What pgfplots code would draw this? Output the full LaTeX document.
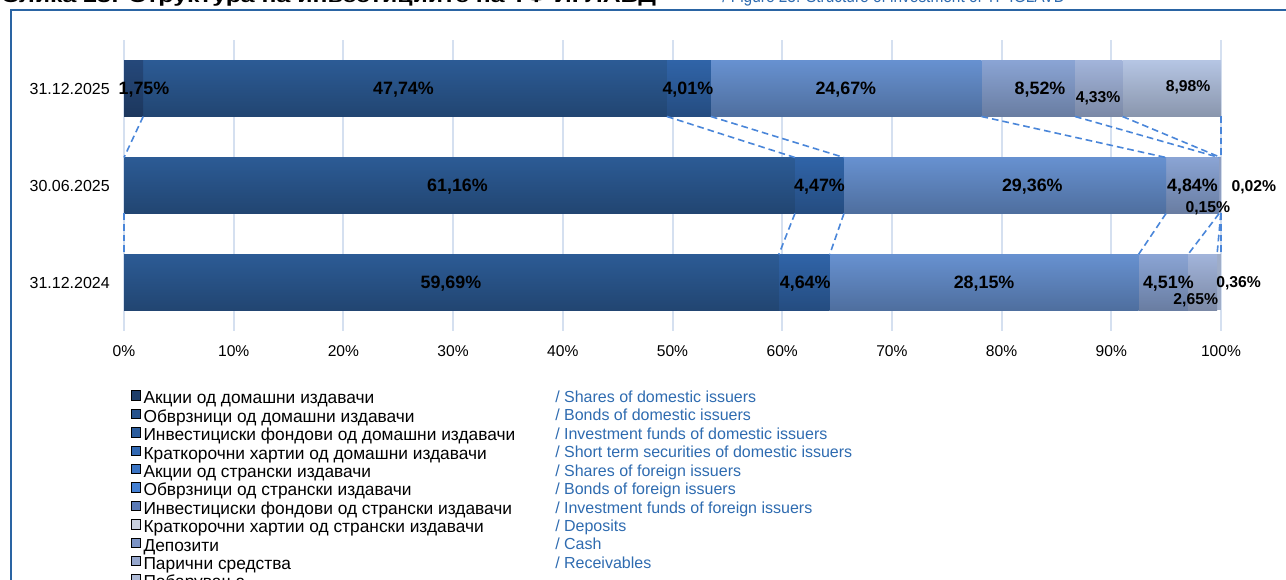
\documentclass[border=0pt]{standalone}
\usepackage{fontspec}
\setmainfont{Liberation Sans}
\usepackage{pgfplots}
\pgfplotsset{compat=1.18}

\definecolor{gridc}{HTML}{D5E0F0}
\definecolor{dashc}{HTML}{4A86D9}
\definecolor{framec}{HTML}{2A64A3}
\definecolor{engc}{HTML}{2E6BB0}
% bar colours (top of gradient)
\definecolor{c1}{HTML}{25487A}
\definecolor{c2}{HTML}{2C5B95}
\definecolor{c3}{HTML}{3064A8}
\definecolor{c7}{HTML}{6791D0}
\definecolor{c9}{HTML}{8AA4D4}
\definecolor{c10}{HTML}{A2B4DA}
\definecolor{c11}{HTML}{B5C5E3}
% legend square colours
\definecolor{l1}{HTML}{1F3E69}
\definecolor{l2}{HTML}{27528B}
\definecolor{l3}{HTML}{2B5C9C}
\definecolor{l4}{HTML}{3168B2}
\definecolor{l5}{HTML}{3A74C3}
\definecolor{l6}{HTML}{4480D3}
\definecolor{l7}{HTML}{5A7AB6}
\definecolor{l8}{HTML}{C8D0E0}
\definecolor{l9}{HTML}{7B93C5}
\definecolor{l10}{HTML}{96A7CD}
\definecolor{l11}{HTML}{AEBAD6}

\pgfplotsset{
  lsq/.style={legend image code/.code={\fill[fill=#1] (0pt,0.9pt) rectangle (7pt,7.9pt);}},
  grad/.style={top color=#1, bottom color=#1!76!black, draw=none},
  flat/.style={fill=#1!88!black, draw=none},
  base/.style={at={(93pt,-248.25pt)}, anchor=south west,
    width=822.75pt, height=218.25pt, scale only axis,
    xmin=0, xmax=100, ymin=-0.5, ymax=2.5, enlargelimits=false},
  baraxis/.style={base, hide axis, xbar stacked, bar width=0.5773},
}
\tikzset{
  big/.style={font=\bfseries\fontsize{13.4}{14}\selectfont, inner sep=0pt, text height=9.6pt, text depth=0pt, anchor=center},
  small/.style={font=\bfseries\fontsize{11.8}{13}\selectfont, inner sep=0pt, text height=8.45pt, text depth=0pt, anchor=center},
  conn/.style={dashc, dash pattern=on 5pt off 3pt, line width=1.2pt},
}

\begin{document}
\begin{tikzpicture}
\useasboundingbox (0pt,0pt) rectangle (964.5pt,-435pt);

% ---- grid, ticks and legend
\begin{axis}[
  base,
  xtick={0,10,...,100},
  xticklabels={0\%,10\%,20\%,30\%,40\%,50\%,60\%,70\%,80\%,90\%,100\%},
  ytick={0,1,2}, yticklabels={31.12.2024,30.06.2025,31.12.2025},
  xmajorgrids, ymajorgrids=false,
  major grid style={draw=gridc, line width=1.5pt},
  axis line style={draw=none}, major tick length=0pt, tick style={draw=none},
  tick label style={inner sep=0pt},
  xticklabel style={font=\fontsize{11.7}{13}\selectfont, anchor=north, yshift=-10.95pt},
  yticklabel style={font=\fontsize{12}{13}\selectfont, anchor=east, xshift=-10.5pt},
  legend cell align=left,
  legend style={at={(0.00638,-0.2041)}, anchor=north west, draw=none, fill=none,
    inner sep=0pt, outer sep=0pt, row sep=-1.24pt, column sep=2pt,
    font=\fontsize{13}{13.875}\selectfont,
    nodes={inner sep=0pt, text height=9pt, text depth=4.875pt}},
]
\addlegendimage{lsq=l1}  \addlegendentry{Акции од домашни издавачи}
\addlegendimage{lsq=l2}  \addlegendentry{Обврзници од домашни издавачи}
\addlegendimage{lsq=l3}  \addlegendentry{Инвестициски фондови од домашни издавачи}
\addlegendimage{lsq=l4}  \addlegendentry{Краткорочни хартии од домашни издавачи}
\addlegendimage{lsq=l5}  \addlegendentry{Акции од странски издавачи}
\addlegendimage{lsq=l6}  \addlegendentry{Обврзници од странски издавачи}
\addlegendimage{lsq=l7}  \addlegendentry{Инвестициски фондови од странски издавачи}
\addlegendimage{lsq=l8}  \addlegendentry{Краткорочни хартии од странски издавачи}
\addlegendimage{lsq=l9}  \addlegendentry{Депозити}
\addlegendimage{lsq=l10} \addlegendentry{Парични средства}
\addlegendimage{lsq=l11} \addlegendentry{Побарувања}
\end{axis}

% ---- 31.12.2025 (y=2)
\begin{axis}[baraxis]
\addplot[grad=c1]  coordinates {(1.75,2)};   % shares, domestic
\addplot[grad=c2]  coordinates {(47.74,2)};  % bonds, domestic
\addplot[grad=c3]  coordinates {(4.01,2)};   % investment funds, domestic
\addplot[grad=c7]  coordinates {(24.67,2)};  % investment funds, foreign
\addplot[grad=c9]  coordinates {(8.52,2)};   % deposits
\addplot[grad=c10] coordinates {(4.33,2)};   % cash
\addplot[grad=c11] coordinates {(8.98,2)};   % receivables
\end{axis}

% ---- 30.06.2025 (y=1)
\begin{axis}[baraxis]
\addplot[grad=c2]  coordinates {(61.16,1)};
\addplot[grad=c3]  coordinates {(4.47,1)};
\addplot[grad=c7]  coordinates {(29.36,1)};
\addplot[grad=c9]  coordinates {(4.84,1)};
\addplot[flat=c10] coordinates {(0.15,1)};
\addplot[flat=c11] coordinates {(0.02,1)};
\end{axis}

% ---- 31.12.2024 (y=0)
\begin{axis}[baraxis]
\addplot[grad=c2]  coordinates {(59.69,0)};
\addplot[grad=c3]  coordinates {(4.64,0)};
\addplot[grad=c7]  coordinates {(28.15,0)};
\addplot[grad=c9]  coordinates {(4.51,0)};
\addplot[grad=c10] coordinates {(2.65,0)};
\addplot[flat=c11] coordinates {(0.36,0)};
\end{axis}

% ---- series lines and data labels
\begin{axis}[base, hide axis, clip=false]
\addplot[conn, no marks] coordinates {(1.75,1.71135) (0,1.28865)};
\addplot[conn, no marks] coordinates {(49.49,1.71135) (61.16,1.28865)};
\addplot[conn, no marks] coordinates {(53.50,1.71135) (65.63,1.28865)};
\addplot[conn, no marks] coordinates {(78.17,1.71135) (94.99,1.28865)};
\addplot[conn, no marks] coordinates {(86.69,1.71135) (99.83,1.28865)};
\addplot[conn, no marks] coordinates {(91.02,1.71135) (99.98,1.28865)};
\addplot[conn, no marks] coordinates {(100,1.71135) (100,1.28865)};
\addplot[conn, no marks] coordinates {(0,0.71135) (0,0.28865)};
\addplot[conn, no marks] coordinates {(61.16,0.71135) (59.69,0.28865)};
\addplot[conn, no marks] coordinates {(65.63,0.71135) (64.33,0.28865)};
\addplot[conn, no marks] coordinates {(94.99,0.71135) (92.48,0.28865)};
\addplot[conn, no marks] coordinates {(99.83,0.71135) (96.99,0.28865)};
\addplot[conn, no marks] coordinates {(99.98,0.71135) (99.64,0.28865)};
\addplot[conn, no marks] coordinates {(100,0.71135) (100,0.28865)};
\node[big] at (axis cs:1.82,2) {1,75\%};
\node[big] at (axis cs:25.48,2) {47,74\%};
\node[big] at (axis cs:51.4,2) {4,01\%};
\node[big] at (axis cs:65.8,2) {24,67\%};
\node[big] at (axis cs:83.5,2) {8,52\%};
\node[small] at (axis cs:88.8,1.918) {4,33\%};
\node[small] at (axis cs:97.0,2.03) {8,98\%};
\node[big] at (axis cs:30.4,1) {61,16\%};
\node[big] at (axis cs:63.4,1) {4,47\%};
\node[big] at (axis cs:82.8,1) {29,36\%};
\node[big] at (axis cs:97.4,1) {4,84\%};
\node[small] at (axis cs:103.0,1) {0,02\%};
\node[small] at (axis cs:98.8,0.783) {0,15\%};
\node[big] at (axis cs:29.8,0) {59,69\%};
\node[big] at (axis cs:62.1,0) {4,64\%};
\node[big] at (axis cs:78.4,0) {28,15\%};
\node[big] at (axis cs:95.2,0) {4,51\%};
\node[small] at (axis cs:97.7,-0.165) {2,65\%};
\node[small] at (axis cs:101.6,0.01) {0,36\%};
\end{axis}

\begin{scope}[x=0.75pt, y=-0.75pt]
\draw[framec, line width=1.5pt] (11,10.5) rectangle (1320,700);
\node[anchor=base west, inner sep=0pt] at (1,2.5)
  {\resizebox{491pt}{9.5pt}{\bfseries Слика 23: Структура на инвестициите на ТФ ИГЛАВД}};
\node[anchor=base west, inner sep=0pt, text=engc] at (722,2.5)
  {\resizebox{257pt}{9.5pt}{/ Figure 23: Structure of investment of TF IGLAVD}};
\foreach \t [count=\i from 0] in {
  / Shares of domestic issuers,
  / Bonds of domestic issuers,
  / Investment funds of domestic issuers,
  / Short term securities of domestic issuers,
  / Shares of foreign issuers,
  / Bonds of foreign issuers,
  / Investment funds of foreign issuers,
  / Deposits,
  / Cash,
  / Receivables}
  \node[anchor=base west, inner sep=0pt, text=engc, font=\fontsize{12}{13.875}\selectfont]
    at (555,{402.4+18.45*\i}) {\t};
\end{scope}
\end{tikzpicture}
\end{document}
